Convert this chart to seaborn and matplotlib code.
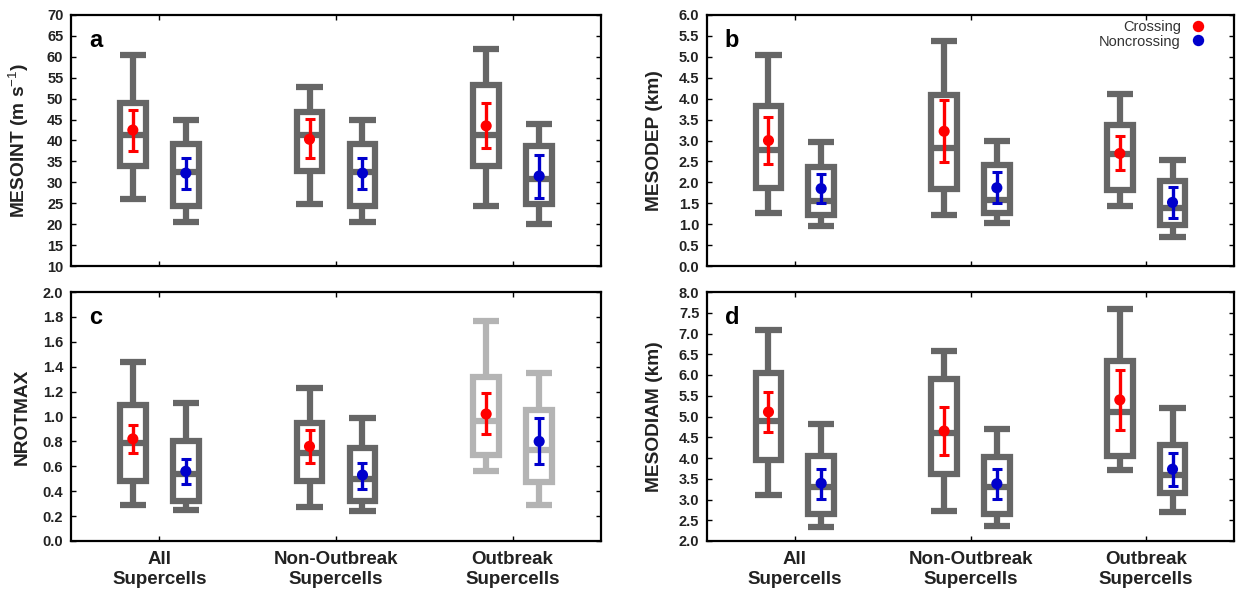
import numpy as np
import pandas as pd
import matplotlib
matplotlib.use("Agg")
import matplotlib.pyplot as plt
from matplotlib.lines import Line2D
import seaborn as sns

# ---------------- data ----------------
groups = ["All\nSupercells", "Non-Outbreak\nSupercells", "Outbreak\nSupercells"]

# five-number summaries per group: [whisker low, Q1, median, Q3, whisker high]
mesoint_cross_box = [[26.0, 33.9, 41.3, 48.9, 60.5], [24.9, 32.8, 41.3, 46.7, 52.8], [24.4, 33.9, 41.3, 53.2, 61.9]]
mesoint_non_box = [[20.4, 24.4, 32.5, 39.1, 44.9], [20.4, 24.4, 32.5, 39.1, 44.9], [20.0, 24.9, 30.8, 38.6, 44.0]]
mesoint_cross_mean = [42.5, 40.3, 43.5]
mesoint_cross_ci = [[37.6, 47.4], [35.9, 45.2], [38.3, 48.9]]
mesoint_non_mean = [32.2, 32.2, 31.5]
mesoint_non_ci = [[28.3, 35.8], [28.4, 35.8], [26.3, 36.6]]

mesodep_cross_box = [[1.27, 1.86, 2.78, 3.82, 5.04], [1.21, 1.84, 2.83, 4.08, 5.39], [1.43, 1.81, 2.68, 3.37, 4.11]]
mesodep_non_box = [[0.95, 1.23, 1.56, 2.36, 2.96], [1.03, 1.26, 1.58, 2.42, 3.00], [0.70, 0.98, 1.38, 2.02, 2.54]]
mesodep_cross_mean = [3.00, 3.22, 2.69]
mesodep_cross_ci = [[2.44, 3.56], [2.48, 3.98], [2.30, 3.10]]
mesodep_non_mean = [1.85, 1.87, 1.52]
mesodep_non_ci = [[1.51, 2.20], [1.51, 2.24], [1.14, 1.88]]

nrotmax_cross_box = [[0.29, 0.48, 0.79, 1.09, 1.44], [0.27, 0.48, 0.71, 0.95, 1.23], [0.56, 0.69, 0.96, 1.32, 1.77]]
nrotmax_non_box = [[0.25, 0.32, 0.54, 0.80, 1.105], [0.24, 0.32, 0.50, 0.75, 0.99], [0.29, 0.47, 0.73, 1.05, 1.35]]
nrotmax_cross_mean = [0.82, 0.76, 1.02]
nrotmax_cross_ci = [[0.71, 0.93], [0.63, 0.89], [0.86, 1.19]]
nrotmax_non_mean = [0.56, 0.53, 0.80]
nrotmax_non_ci = [[0.46, 0.66], [0.42, 0.63], [0.62, 0.99]]

mesodiam_cross_box = [[3.10, 3.95, 4.88, 6.06, 7.09], [2.73, 3.62, 4.60, 5.90, 6.59], [3.72, 4.05, 5.12, 6.34, 7.60]]
mesodiam_non_box = [[2.34, 2.64, 3.31, 4.05, 4.82], [2.35, 2.66, 3.31, 4.03, 4.69], [2.69, 3.16, 3.58, 4.31, 5.20]]
mesodiam_cross_mean = [5.11, 4.65, 5.40]
mesodiam_cross_ci = [[4.63, 5.58], [4.07, 5.23], [4.68, 6.11]]
mesodiam_non_mean = [3.39, 3.38, 3.73]
mesodiam_non_ci = [[3.02, 3.74], [3.02, 3.74], [3.33, 4.13]]

series_labels = ["Crossing", "Noncrossing"]

# ---------------- style ----------------
sns.set_theme(style="ticks")
plt.rcParams["font.family"] = ["Liberation Sans", "DejaVu Sans"]
plt.rcParams["mathtext.fontset"] = "custom"
plt.rcParams["mathtext.rm"] = "Liberation Sans"

DARK = "#666666"
LIGHT = "#b4b4b4"
RED = "#ff0000"
BLUE = "#0000cc"
BOX_LW = 4.5
OFFSET = 0.15
BOX_W = 0.145
CAP_W = 0.15

fig = plt.figure(figsize=(12.41, 5.90), dpi=100)

panels = [
    dict(rect=[71/1241, 1-266/590, 530/1241, 251/590], letter="a",
         ylabel=r"MESOINT (m s$^{\mathrm{-1}}$)", ylim=(10, 70), step=5, fmt="{:.0f}",
         cb=mesoint_cross_box, nb=mesoint_non_box, cm=mesoint_cross_mean, cci=mesoint_cross_ci,
         nm=mesoint_non_mean, nci=mesoint_non_ci, colors=[DARK, DARK, DARK], xl=False, lx=-0.075),
    dict(rect=[707/1241, 1-266/590, 527/1241, 251/590], letter="b",
         ylabel="MESODEP (km)", ylim=(0, 6), step=0.5, fmt="{:.1f}",
         cb=mesodep_cross_box, nb=mesodep_non_box, cm=mesodep_cross_mean, cci=mesodep_cross_ci,
         nm=mesodep_non_mean, nci=mesodep_non_ci, colors=[DARK, DARK, DARK], xl=False, lx=-0.083),
    dict(rect=[71/1241, 1-541/590, 530/1241, 249/590], letter="c",
         ylabel="NROTMAX", ylim=(0, 2), step=0.2, fmt="{:.1f}",
         cb=nrotmax_cross_box, nb=nrotmax_non_box, cm=nrotmax_cross_mean, cci=nrotmax_cross_ci,
         nm=nrotmax_non_mean, nci=nrotmax_non_ci, colors=[DARK, DARK, LIGHT], xl=True, lx=-0.075),
    dict(rect=[707/1241, 1-541/590, 527/1241, 249/590], letter="d",
         ylabel="MESODIAM (km)", ylim=(2, 8), step=0.5, fmt="{:.1f}",
         cb=mesodiam_cross_box, nb=mesodiam_non_box, cm=mesodiam_cross_mean, cci=mesodiam_cross_ci,
         nm=mesodiam_non_mean, nci=mesodiam_non_ci, colors=[DARK, DARK, DARK], xl=True, lx=-0.083),
]


def draw_boxes(ax, box, pos, colors):
    for b, p, c in zip(box, pos, colors):
        st = [dict(whislo=b[0], q1=b[1], med=b[2], q3=b[3], whishi=b[4], fliers=[])]
        ax.bxp(st, positions=[p], widths=BOX_W, capwidths=CAP_W, patch_artist=True,
               showfliers=False, manage_ticks=False,
               boxprops=dict(facecolor="white", edgecolor=c, linewidth=BOX_LW),
               whiskerprops=dict(color=c, linewidth=BOX_LW, solid_capstyle="butt"),
               capprops=dict(color=c, linewidth=BOX_LW, solid_capstyle="butt"),
               medianprops=dict(color=c, linewidth=BOX_LW, solid_capstyle="butt"),
               zorder=2)


def draw_means(ax, mean, ci, pos, color):
    mean = np.asarray(mean)
    ci = np.asarray(ci)
    ax.errorbar(pos, mean, yerr=[mean - ci[:, 0], ci[:, 1] - mean], fmt="none",
                ecolor=color, elinewidth=2.4, capsize=3.6, capthick=2.2, zorder=3)
    df = pd.DataFrame({"x": pos, "y": mean})
    sns.scatterplot(data=df, x="x", y="y", ax=ax, color=color, s=64,
                    edgecolor="none", linewidth=0, zorder=4, legend=False)


x = np.arange(len(groups))
for pnl in panels:
    ax = fig.add_axes(pnl["rect"])
    draw_boxes(ax, pnl["cb"], x - OFFSET, pnl["colors"])
    draw_boxes(ax, pnl["nb"], x + OFFSET, pnl["colors"])
    draw_means(ax, pnl["cm"], pnl["cci"], x - OFFSET, RED)
    draw_means(ax, pnl["nm"], pnl["nci"], x + OFFSET, BLUE)

    ax.set_xlim(-0.5, 2.5)
    lo, hi = pnl["ylim"]
    ax.set_ylim(lo, hi)
    yt = np.arange(lo, hi + pnl["step"] / 2, pnl["step"])
    ax.set_yticks(yt)
    ax.set_yticklabels([pnl["fmt"].format(v) for v in yt])
    ax.set_xticks(x)
    if pnl["xl"]:
        ax.set_xticklabels(groups, fontsize=13.5, fontweight="bold", linespacing=1.2)
    else:
        ax.set_xticklabels([])
    ax.tick_params(axis="both", direction="in", length=3.5, width=1.0, color="black",
                   top=True, right=True)
    ax.tick_params(axis="y", labelsize=10.5, pad=5.5, labelcolor="#222222")
    ax.tick_params(axis="x", pad=7.5, labelcolor="#222222")
    for lab in ax.get_yticklabels():
        lab.set_fontweight("bold")
    for s in ax.spines.values():
        s.set_linewidth(1.6)
        s.set_color("black")
        s.set_visible(True)
    ax.set_xlabel("")
    ax.set_ylabel(pnl["ylabel"], fontsize=13.8, fontweight="bold", color="#222222")
    ax.yaxis.set_label_coords(pnl["lx"], 0.5)
    ax.text(0.034, 0.873, pnl["letter"], transform=ax.transAxes, fontsize=17,
            fontweight="bold", color="black", va="baseline", ha="left")

    if pnl["letter"] == "b":
        handles = [Line2D([], [], linestyle="none", marker="o", markersize=8.2,
                          markerfacecolor=c, markeredgecolor="none")
                   for c in (RED, BLUE)]
        leg = ax.legend(handles, series_labels, loc="upper right", frameon=False,
                        markerfirst=False, bbox_to_anchor=(0.953, 1.004),
                        borderaxespad=0, handlelength=0.8, handletextpad=0.75,
                        labelspacing=0.05, fontsize=10.5)
        for t in leg.get_texts():
            t.set_color("#333333")

fig.savefig("out.png", dpi=100)
